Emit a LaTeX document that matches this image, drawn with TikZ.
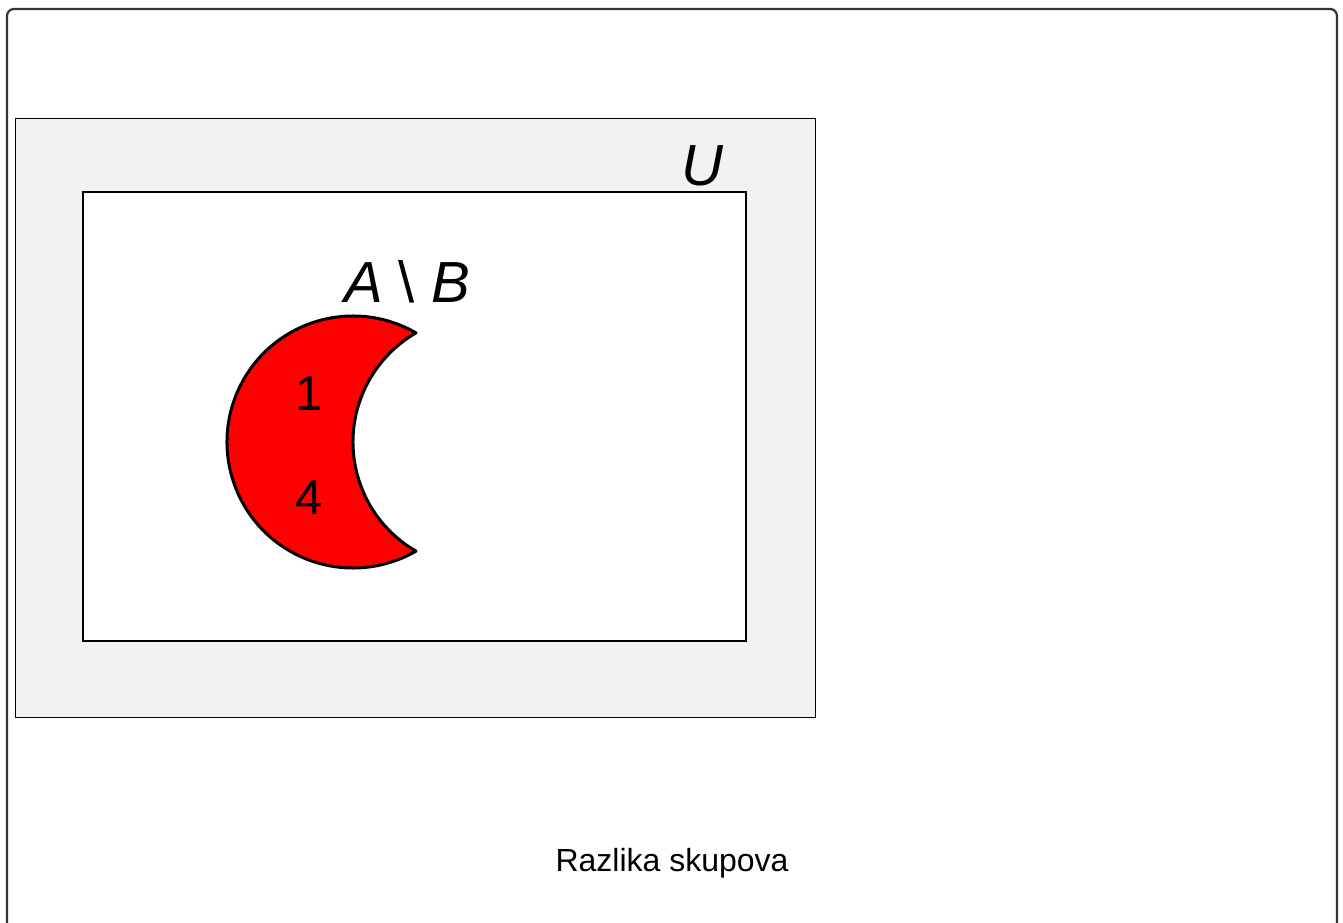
\documentclass[tikz,border=0pt]{standalone}
\usepackage{fontspec}
\setmainfont{Liberation Sans}
\usetikzlibrary{positioning}

\definecolor{framegray}{HTML}{333333}
\definecolor{univgray}{HTML}{F2F2F2}

\begin{document}
\begin{tikzpicture}[x=1pt, y=-1pt,
  frame/.style={draw=framegray, line width=2.2pt, rounded corners=7pt},
  univ/.style={draw=black, line width=1pt, fill=univgray},
  inner/.style={draw=black, line width=2.4pt, fill=white},
  crescent/.style={draw=black, line width=3pt, line join=round, fill=red},
  setlbl/.style={inner sep=0pt, anchor=base, font=\fontsize{58}{60}\selectfont},
  elem/.style={inner sep=0pt, anchor=base, font=\fontsize{49}{52}\selectfont},
  caption/.style={inner sep=0pt, anchor=base, font=\fontsize{32}{36}\selectfont}]
  \useasboundingbox (0,0) rectangle (1343,922);
  \draw[frame] (7,9) rectangle (1337,960);
  \draw[univ] (15,118) rectangle (815,717);
  \draw[inner] (83,192) rectangle (746,641);
  \coordinate (cA) at (353,442);
  \coordinate (cB) at (479,442);
  \draw[crescent] (cA) ++(-60:126) arc[start angle=-60, end angle=-300, radius=126]
    arc[start angle=120, end angle=240, radius=126] -- cycle;
  \node[setlbl] (lblU) at (703,185) {\textit{U}};
  \node[setlbl] (lblAB) at (407,302) {\textit{A} \textbackslash{} \textit{B}};
  \node[elem] (e1) at (309,410) {1};
  \node[elem] (e4) at (309,514) {4};
  \node[caption] (cap) at (672,871) {Razlika skupova};
\end{tikzpicture}
\end{document}
